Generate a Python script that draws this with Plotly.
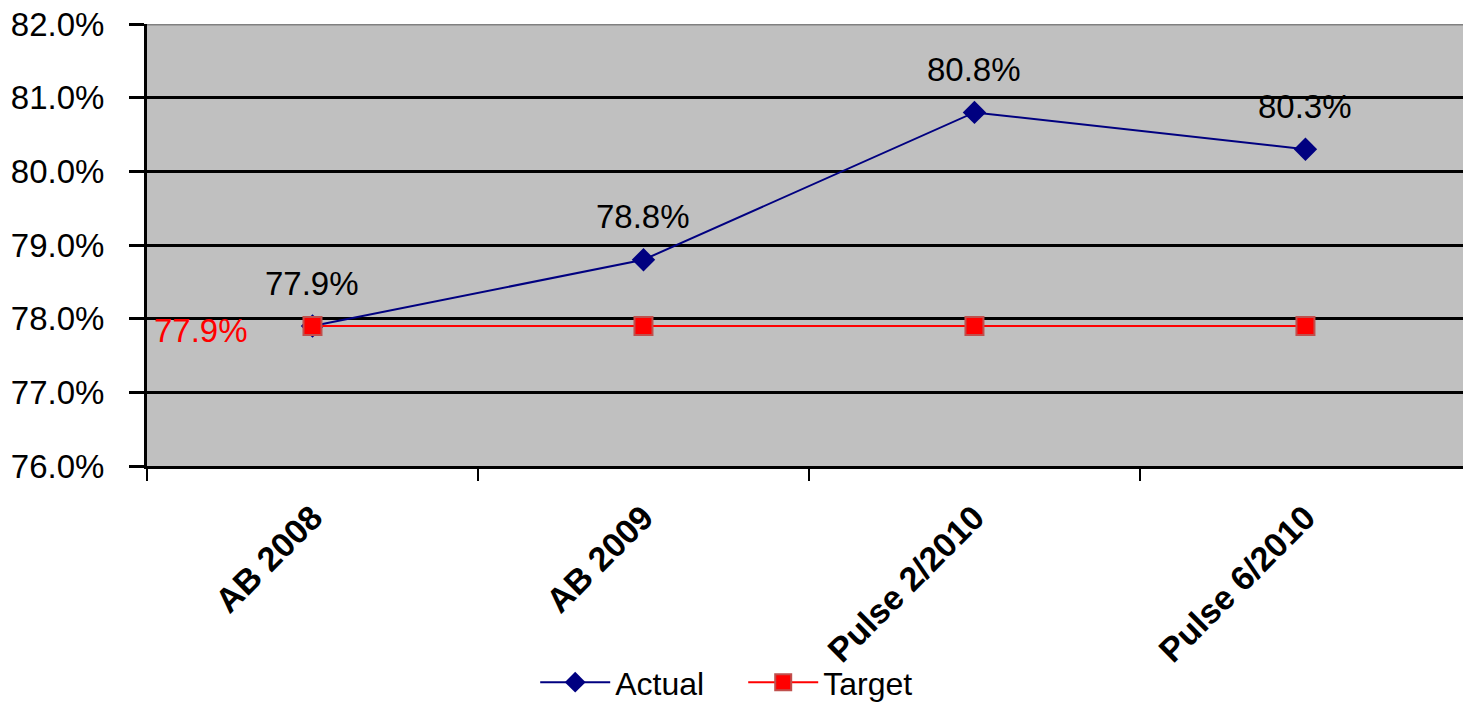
import plotly.graph_objects as go

# Survey waves and results (percent)
waves = ["AB 2008", "AB 2009", "Pulse 2/2010", "Pulse 6/2010"]
actual = [77.9, 78.8, 80.8, 80.3]
target = [77.9, 77.9, 77.9, 77.9]
y_ticks = [76, 77, 78, 79, 80, 81, 82]

FONT = "Liberation Sans, Arial, sans-serif"
NAVY = "#000080"
RED = "#FF0000"

fig = go.Figure()

fig.add_trace(go.Scatter(
    x=waves, y=actual, name="Actual", mode="lines+markers",
    line=dict(color=NAVY, width=2),
    marker=dict(symbol="diamond", size=18, color=NAVY),
))
fig.add_trace(go.Scatter(
    x=waves, y=target, name="Target", mode="lines+markers",
    line=dict(color=RED, width=2),
    marker=dict(symbol="square", size=18, color=RED,
                line=dict(color="#C0504D", width=2)),
))

# Value labels above the Actual points
for w, v in zip(waves, actual):
    fig.add_annotation(x=w, y=v, text=f"{v:.1f}%", showarrow=False,
                       yshift=43, font=dict(family=FONT, size=33, color="black"))

# Target value label on the first point only
fig.add_annotation(x=waves[0], y=target[0], text=f"{target[0]:.1f}%",
                   showarrow=False, xanchor="right", xshift=-62, yshift=-4,
                   font=dict(family=FONT, size=33, color=RED))

# Grey top border of the plot area
fig.add_shape(type="line", xref="paper", yref="y", x0=0, x1=1, y0=82, y1=82,
              line=dict(color="#808080", width=3), layer="above")

fig.update_layout(
    width=1463, height=702,
    margin=dict(l=147, r=0, t=24, b=236, autoexpand=False),
    paper_bgcolor="white",
    plot_bgcolor="#C0C0C0",
    font=dict(family=FONT, size=33, color="black"),
    showlegend=True,
    legend=dict(orientation="h", xref="container", yref="container",
                x=0.508, y=0.028, xanchor="center", yanchor="middle",
                font=dict(family=FONT, size=32, color="black"),
                bgcolor="rgba(0,0,0,0)", itemwidth=70, entrywidth=123),
    xaxis=dict(
        type="category", range=[-0.5, 3.476], automargin=False,
        showgrid=False, zeroline=False,
        showline=True, linecolor="black", linewidth=3,
        ticks="outside", tickson="boundaries", ticklen=12, tickwidth=2,
        tickcolor="black", tickangle=-45, ticklabelstandoff=15,
        tickfont=dict(family=FONT, size=34, color="black", weight="bold"),
    ),
    yaxis=dict(
        range=[76, 82], tickvals=y_ticks, automargin=False,
        ticktext=[f"{t:.1f}%" for t in y_ticks],
        showgrid=True, gridcolor="black", gridwidth=3, zeroline=False,
        showline=True, linecolor="black", linewidth=3,
        ticks="outside", ticklen=15, tickwidth=3, tickcolor="black",
        ticklabelstandoff=18,
        tickfont=dict(family=FONT, size=33, color="black"),
    ),
)

fig.write_html("out.html")
